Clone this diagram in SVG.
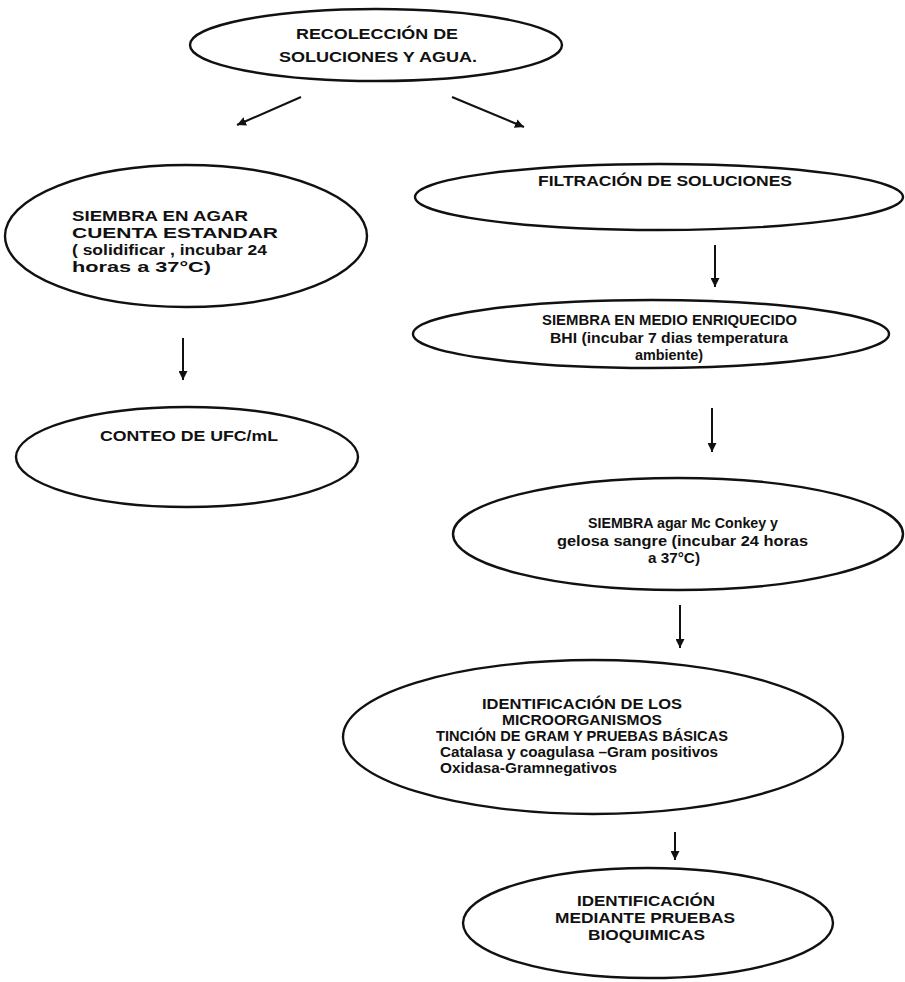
<svg xmlns="http://www.w3.org/2000/svg" width="905" height="982" viewBox="0 0 905 982">
<defs>
<style>
.node ellipse{fill:none;stroke:#111;stroke-width:2.4}
.node text{font-family:"Liberation Sans",Arial,sans-serif;font-weight:bold;font-size:15px;fill:#111}
.conn line{stroke:#111;stroke-width:2}
</style>
<marker id="ah" viewBox="0 0 10 10" refX="10" refY="5" markerWidth="9" markerHeight="9" markerUnits="userSpaceOnUse" orient="auto">
<path d="M0,0 L10,5 L0,10 Z" fill="#111"/>
</marker>
</defs>
<rect width="905" height="982" fill="#fff"/>
<g id="connectors" class="conn">
<line x1="301" y1="97" x2="237" y2="125" marker-end="url(#ah)"/>
<line x1="452" y1="97" x2="524" y2="127" marker-end="url(#ah)"/>
<line x1="183" y1="338" x2="183" y2="380" marker-end="url(#ah)"/>
<line x1="715" y1="245" x2="715" y2="287" marker-end="url(#ah)"/>
<line x1="712" y1="408" x2="712" y2="452" marker-end="url(#ah)"/>
<line x1="680" y1="605" x2="680" y2="648" marker-end="url(#ah)"/>
<line x1="675" y1="832" x2="675" y2="860" marker-end="url(#ah)"/>
</g>
<g id="n-recoleccion" class="node">
<ellipse cx="376" cy="45" rx="186" ry="36"/>
<text x="296" y="39" font-size="16" textLength="162" lengthAdjust="spacingAndGlyphs">RECOLECCIÓN DE</text>
<text x="279" y="62" font-size="16" textLength="198" lengthAdjust="spacingAndGlyphs">SOLUCIONES Y AGUA.</text>
</g>
<g id="n-siembra-agar" class="node">
<ellipse cx="186" cy="236" rx="181" ry="71"/>
<text x="72" y="221" font-size="16" textLength="176" lengthAdjust="spacingAndGlyphs">SIEMBRA EN AGAR</text>
<text x="72" y="238" font-size="16" textLength="206" lengthAdjust="spacingAndGlyphs">CUENTA ESTANDAR</text>
<text x="72" y="255" font-size="16" textLength="195" lengthAdjust="spacingAndGlyphs">( solidificar , incubar 24</text>
<text x="72" y="272" font-size="16" textLength="139" lengthAdjust="spacingAndGlyphs">horas a 37°C)</text>
</g>
<g id="n-conteo" class="node">
<ellipse cx="187" cy="457" rx="171" ry="50"/>
<text x="100" y="441" font-size="16" textLength="178" lengthAdjust="spacingAndGlyphs">CONTEO DE UFC/mL</text>
</g>
<g id="n-filtracion" class="node">
<ellipse cx="659" cy="197" rx="244" ry="33"/>
<text x="538" y="186" font-size="16" textLength="254" lengthAdjust="spacingAndGlyphs">FILTRACIÓN DE SOLUCIONES</text>
</g>
<g id="n-siembra-bhi" class="node">
<ellipse cx="651" cy="334" rx="238" ry="34"/>
<text x="542" y="325" textLength="255" lengthAdjust="spacingAndGlyphs">SIEMBRA EN MEDIO ENRIQUECIDO</text>
<text x="550" y="343" textLength="238" lengthAdjust="spacingAndGlyphs">BHI (incubar 7 dias temperatura</text>
<text x="635" y="360" textLength="68" lengthAdjust="spacingAndGlyphs">ambiente)</text>
</g>
<g id="n-siembra-mcconkey" class="node">
<ellipse cx="678" cy="534" rx="225" ry="56"/>
<text x="588" y="528" textLength="190" lengthAdjust="spacingAndGlyphs">SIEMBRA agar Mc Conkey y</text>
<text x="557" y="546" textLength="251" lengthAdjust="spacingAndGlyphs">gelosa sangre (incubar 24 horas</text>
<text x="648" y="563" textLength="52" lengthAdjust="spacingAndGlyphs">a 37°C)</text>
</g>
<g id="n-identificacion" class="node">
<ellipse cx="593" cy="737" rx="250" ry="77"/>
<text x="482" y="709" font-size="14" textLength="200" lengthAdjust="spacingAndGlyphs">IDENTIFICACIÓN DE LOS</text>
<text x="502" y="725" font-size="14" textLength="160" lengthAdjust="spacingAndGlyphs">MICROORGANISMOS</text>
<text x="436" y="741" font-size="14" textLength="292" lengthAdjust="spacingAndGlyphs">TINCIÓN DE GRAM Y PRUEBAS BÁSICAS</text>
<text x="440" y="757" font-size="14" textLength="278" lengthAdjust="spacingAndGlyphs">Catalasa y coagulasa –Gram positivos</text>
<text x="440" y="773" font-size="14" textLength="177" lengthAdjust="spacingAndGlyphs">Oxidasa-Gramnegativos</text>
</g>
<g id="n-bioquimicas" class="node">
<ellipse cx="648" cy="923" rx="185" ry="55"/>
<text x="577" y="906" font-size="16" textLength="138" lengthAdjust="spacingAndGlyphs">IDENTIFICACIÓN</text>
<text x="555" y="923" font-size="16" textLength="180" lengthAdjust="spacingAndGlyphs">MEDIANTE PRUEBAS</text>
<text x="588" y="940" font-size="16" textLength="117" lengthAdjust="spacingAndGlyphs">BIOQUIMICAS</text>
</g>
</svg>
